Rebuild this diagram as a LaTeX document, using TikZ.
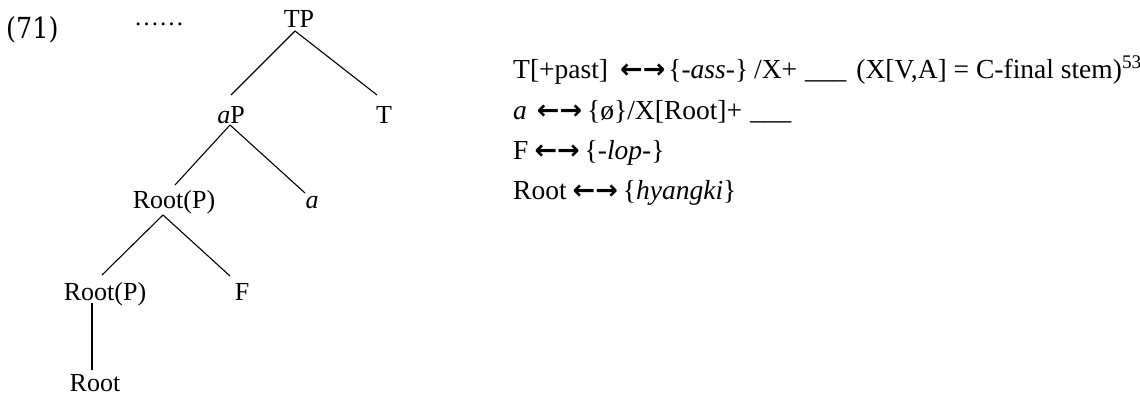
\documentclass[tikz,border=0pt]{standalone}
\usepackage{fontspec}
\setmainfont{Liberation Serif}
\newfontfamily\symfont{DejaVu Sans}
\newfontfamily\numfont[FakeStretch=0.88]{DejaVu Serif}
\newcommand{\arr}{{\symfont\bfseries\fontsize{27}{30}\selectfont ←→}}
\begin{document}
\begin{tikzpicture}[x=1pt,y=-1pt,
  tn/.style={font=\fontsize{26}{30}\selectfont, anchor=base, inner xsep=0pt, inner ysep=3pt, outer sep=0pt, text height=17pt, text depth=0pt},
  rt/.style={font=\fontsize{27.5}{30}\selectfont, anchor=base west, inner sep=0pt},
  br/.style={line width=1.1pt, black}]
\useasboundingbox (0,0) rectangle (1140,396);
% example number and dots
\node[anchor=base west, inner sep=0pt, font=\numfont\fontsize{29}{32}\selectfont] (num) at (6,38) {(71)};
\node[anchor=base west, inner sep=0pt, font=\fontsize{25}{30}\selectfont] (dots) at (134,26) {……};
% tree nodes
\node[tn] (TP) at (299,28) {TP};
\node[tn] (aP) at (231,123) {\textit{a}P};
\node[tn] (T) at (384,123) {T};
\node[tn] (RP1) at (174,208) {Root(P)};
\node[tn] (a) at (312,208) {\textit{a}};
\node[tn] (RP2) at (105,300) {Root(P)};
\node[tn] (F) at (242,300) {F};
\node[tn] (R) at (95,391) {Root};
% branches
\draw[br] ([xshift=-4pt]TP.south) -- ([yshift=8pt]aP.north);
\draw[br] ([xshift=-4pt]TP.south) -- ([xshift=-7pt,yshift=8pt]T.north);
\draw[br] ([xshift=-1pt,yshift=1pt]aP.south) -- ([xshift=1pt,yshift=3pt]RP1.north);
\draw[br] ([xshift=-1pt,yshift=1pt]aP.south) -- ([xshift=-7pt,yshift=-5pt]a.north);
\draw[br] ([xshift=-11pt,yshift=-4pt]RP1.south) -- ([xshift=-3pt,yshift=5pt]RP2.north);
\draw[br] ([xshift=-11pt,yshift=-4pt]RP1.south) -- ([xshift=-12pt,yshift=4pt]F.north);
\draw[br] ([xshift=-13pt]RP2.south) -- ([xshift=-3pt,yshift=1pt]R.north);
% vocabulary items
\node[rt] (v1) at (513,78) {T[+past]\hspace{12pt}\arr\hspace{3pt}\{-\textit{ass}-\}\hspace{6pt}/X+\hspace{8pt}\_\_\_\hspace{10pt}(X[V,A] = C-final stem)\textsuperscript{53}};
\node[rt] (v2) at (513,119) {\textit{a}\hspace{10pt}\arr\hspace{5pt}\{ø\}/X[Root]+\hspace{8pt}\_\_\_};
\node[rt] (v3) at (513,159) {F\hspace{6pt}\arr\hspace{5pt}\{-\textit{lop}-\}};
\node[rt] (v4) at (513,199) {Root\hspace{6pt}\arr\hspace{5pt}\{\textit{hyangki}\}};
\end{tikzpicture}
\end{document}
